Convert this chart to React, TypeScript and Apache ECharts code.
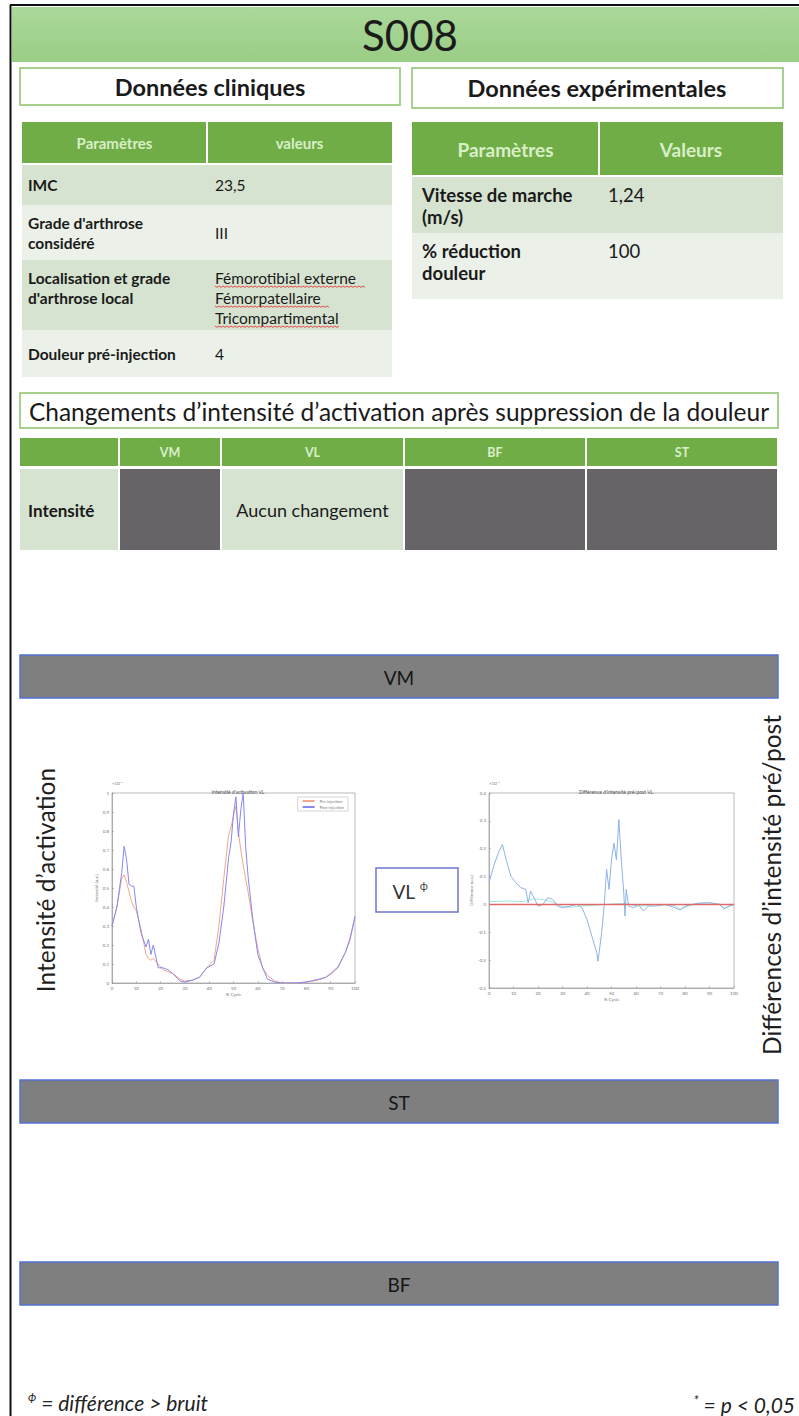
import React, { useEffect, useRef } from "react";
import * as echarts from "echarts";

// ---------- DATA ----------
const pageTitle = "S008";
const clinicalHeaders = ["Paramètres", "valeurs"];
const clinicalLabels = ["IMC", "Grade d'arthrose\nconsidéré", "Localisation et grade\nd'arthrose local", "Douleur pré-injection"];
const clinicalValues = ["23,5", "III", "Fémorotibial externe\nFémorpatellaire\nTricompartimental", "4"];

const expHeaders = ["Paramètres", "Valeurs"];
const expLabels = ["Vitesse de marche\n(m/s)", "% réduction\ndouleur"];
const expValues = ["1,24", "100"];

const muscles = ["VM", "VL", "BF", "ST"];
const intensityChanged = [true, false, true, true];
const noChangeText = "Aucun changement";
const sectionBands = ["VM", "ST", "BF"];

const cycleX = [0, 2, 4, 5, 6, 7, 8, 9, 10, 12, 14, 15, 16, 17, 19, 21, 23, 25, 28, 30, 33, 36, 39, 42, 44, 46, 48, 49, 50, 51, 52, 53, 54, 55, 56, 58, 60, 62, 64, 67, 70, 75, 80, 85, 88, 90, 93, 96, 98, 100];
const preVals = [0.3, 0.4, 0.55, 0.57, 0.53, 0.48, 0.43, 0.4, 0.38, 0.28, 0.15, 0.13, 0.12, 0.13, 0.1, 0.07, 0.06, 0.05, 0.02, 0.01, 0.015, 0.03, 0.08, 0.12, 0.3, 0.55, 0.78, 0.82, 0.88, 0.93, 0.8, 0.7, 0.62, 0.55, 0.48, 0.32, 0.18, 0.08, 0.04, 0.01, 0, 0, 0.005, 0.015, 0.03, 0.045, 0.08, 0.16, 0.24, 0.35];
const postVals = [0.3, 0.4, 0.58, 0.72, 0.65, 0.52, 0.51, 0.51, 0.4, 0.26, 0.19, 0.23, 0.15, 0.2, 0.08, 0.08, 0.07, 0.05, 0.01, 0.005, 0.014, 0.03, 0.08, 0.1, 0.21, 0.4, 0.66, 0.74, 0.89, 0.98, 0.77, 0.91, 1.0, 0.72, 0.56, 0.33, 0.15, 0.08, 0.02, 0.005, 0, 0, 0.005, 0.02, 0.03, 0.05, 0.085, 0.16, 0.23, 0.35];

const diffX = [0, 2, 4, 5.5, 7, 9, 11, 13, 15, 16, 17, 18, 20, 22, 24, 26, 28, 30, 33, 36, 38, 40, 42, 44, 44.5, 46, 47, 48, 49, 50, 51, 52, 53, 54, 55, 55.5, 56, 57, 59, 61, 63, 65, 68, 72, 76, 78, 80, 85, 90, 94, 96, 98, 100];
const diffVals = [0.078, 0.14, 0.19, 0.215, 0.16, 0.1, 0.078, 0.06, 0.054, 0.006, 0.048, 0.03, -0.006, 0, 0.024, 0.018, -0.006, -0.012, -0.006, 0, -0.012, -0.054, -0.114, -0.174, -0.204, -0.1, -0.006, 0.126, 0.054, 0.16, 0.22, 0.16, 0.305, 0.16, 0.042, -0.042, 0.054, -0.006, -0.012, 0, -0.024, -0.006, -0.006, 0, -0.012, -0.02, -0.006, 0.004, 0.006, 0, -0.016, -0.006, 0];
const noiseX = [0, 8, 14, 18, 22, 26, 30, 34, 38, 56, 60, 64, 68, 72, 76, 78, 82, 86, 90, 94, 96, 100];
const noiseVals = [0.01, 0.012, 0.01, 0.02, 0.018, 0.008, -0.008, -0.01, -0.005, 0.004, -0.006, -0.004, 0, -0.002, -0.004, -0.018, -0.004, 0.004, 0.006, 0.002, -0.014, 0];

const legendNames = ["Pré-injection", "Post-injection"];
const leftYLabel = "Intensité d’activation";
const rightYLabel = "Différences d’intensité pré/post";
const sectionTitle = "Changements d’intensité d’activation après suppression de la douleur";

// ---------- STYLE ----------
const FONT = "Lato, 'Noto Sans', sans-serif";
const GREEN = "#70ad47";
const ROW_A = "#d6e3d0";
const ROW_B = "#ebf1e8";
const HEAD_TXT = "#d8efc8";
const BOX_BORDER = "#a9d18e";
const GRAY_CELL = "#666466";
const BAND = "#7f7f7f";
const BAND_BORDER = "#5572d8";

function rect(x: number, y: number, w: number, h: number, fill: string, stroke?: string, lw?: number) {
  return { type: "rect", shape: { x, y, width: w, height: h }, style: { fill, stroke: stroke || "none", lineWidth: lw || 0 }, silent: true };
}
function text(x: number, y: number, t: string, o: any = {}) {
  return {
    type: "text",
    x,
    y,
    rotation: o.rotation || 0,
    silent: true,
    style: {
      text: t,
      fill: o.fill || "#1a1a1a",
      fontFamily: FONT,
      fontSize: o.size || 14,
      fontWeight: o.weight || "normal",
      fontStyle: o.style || "normal",
      align: o.align || "left",
      verticalAlign: o.va || "top",
      lineHeight: o.lh || undefined,
      rich: o.rich || undefined,
    },
  };
}
function wavy(x: number, y: number, w: number) {
  const pts: number[][] = [];
  for (let i = 0; i * 2 <= w; i++) pts.push([x + i * 2, y + (i % 2 ? 1.4 : 0)]);
  return { type: "polyline", shape: { points: pts }, style: { stroke: "#e23b3b", lineWidth: 0.9, fill: "none" }, silent: true };
}

function buildGraphics() {
  const g: any[] = [];
  // page borders
  g.push({ type: "line", shape: { x1: 10.5, y1: 5, x2: 10.5, y2: 1416 }, style: { stroke: "#111", lineWidth: 2 }, silent: true });
  g.push({ type: "line", shape: { x1: 10, y1: 5, x2: 799, y2: 5 }, style: { stroke: "#111", lineWidth: 2 }, silent: true });
  // green title band
  g.push({
    type: "rect",
    shape: { x: 12, y: 7, width: 787, height: 55 },
    style: { fill: new echarts.graphic.LinearGradient(0, 0, 0, 1, [{ offset: 0, color: "#aad899" }, { offset: 1, color: "#9acd86" }]) },
    silent: true,
  });
  g.push(text(410, 35, pageTitle, { size: 42, align: "center", va: "middle", fill: "#1b1b1b" }));

  // boxes
  g.push(rect(20, 68, 380, 37, "#fff", BOX_BORDER, 2));
  g.push(text(210, 87, "Données cliniques", { size: 23.5, weight: "bold", align: "center", va: "middle" }));
  g.push(rect(412, 68, 371, 40, "#fff", BOX_BORDER, 2));
  g.push(text(597, 88, "Données expérimentales", { size: 23.5, weight: "bold", align: "center", va: "middle" }));

  // clinical table
  const lx = 22, lsplit = 207, lr = 392;
  g.push(rect(lx, 122, lsplit - lx - 1, 41, GREEN));
  g.push(rect(lsplit + 1, 122, lr - lsplit - 1, 41, GREEN));
  g.push(text((lx + lsplit) / 2, 143, clinicalHeaders[0], { size: 15, weight: "bold", align: "center", va: "middle", fill: HEAD_TXT }));
  g.push(text((lsplit + lr) / 2, 143, clinicalHeaders[1], { size: 15, weight: "bold", align: "center", va: "middle", fill: HEAD_TXT }));
  const cRows = [[165, 40], [205, 55], [260, 70], [330, 47]];
  cRows.forEach(([y, h], i) => {
    const fill = i % 2 === 0 ? ROW_A : ROW_B;
    g.push(rect(lx, y, lr - lx, h, fill));
    const top = i === 2 ? y + 8 : y + h / 2;
    const va = i === 2 ? "top" : "middle";
    g.push(text(lx + 6, top, clinicalLabels[i], { size: 15.5, weight: "bold", va, lh: 20 }));
    g.push(text(lsplit + 8, top, clinicalValues[i], { size: 15.5, va, lh: 20 }));
  });
  // spell-check underlines
  g.push(wavy(215, 286, 150));
  g.push(wavy(215, 306, 114));
  g.push(wavy(215, 326, 124));

  // experimental table
  const rx = 412, rsplit = 599, rr = 783;
  g.push(rect(rx, 122, rsplit - rx - 1, 53, GREEN));
  g.push(rect(rsplit + 1, 122, rr - rsplit - 1, 53, GREEN));
  g.push(text((rx + rsplit) / 2, 149, expHeaders[0], { size: 19, weight: "bold", align: "center", va: "middle", fill: HEAD_TXT }));
  g.push(text((rsplit + rr) / 2, 149, expHeaders[1], { size: 19, weight: "bold", align: "center", va: "middle", fill: HEAD_TXT }));
  const eRows = [[177, 56], [233, 66]];
  eRows.forEach(([y, h], i) => {
    g.push(rect(rx, y, rr - rx, h, i === 0 ? ROW_A : ROW_B));
    g.push(text(rx + 10, y + 7, expLabels[i], { size: 18.5, weight: "bold", lh: 22 }));
    g.push(text(rsplit + 9, y + 7, expValues[i], { size: 18.5, lh: 22 }));
  });

  // section title
  g.push(rect(20, 393, 758, 35, "#fff", BOX_BORDER, 2));
  g.push(text(399, 411, sectionTitle, { size: 24.5, align: "center", va: "middle" }));

  // intensity table
  const cols = [[20, 98], [120, 100], [222, 181], [405, 180], [587, 190]];
  cols.forEach(([x, w], i) => {
    g.push(rect(x, 438, w, 28, GREEN));
    if (i > 0) g.push(text(x + w / 2, 452, muscles[i - 1], { size: 12.5, weight: "bold", align: "center", va: "middle", fill: HEAD_TXT }));
    if (i === 0) {
      g.push(rect(x, 469, w, 81, ROW_A));
      g.push(text(x + 8, 510, "Intensité", { size: 17, weight: "bold", va: "middle" }));
    } else {
      const changed = intensityChanged[i - 1];
      g.push(rect(x, 469, w, 81, changed ? GRAY_CELL : ROW_A));
      if (!changed) g.push(text(x + w / 2, 510, noChangeText, { size: 18, align: "center", va: "middle" }));
    }
  });

  // gray section bands
  const bandY = [655, 1080, 1262];
  sectionBands.forEach((b, i) => {
    g.push(rect(20, bandY[i], 758, 43, BAND, BAND_BORDER, 1.5));
    g.push(text(399, bandY[i] + 22, b, { size: 19, align: "center", va: "middle", fill: "#151515" }));
  });

  // VL box
  g.push(rect(376, 868, 82, 44, "#fff", "#6d76cf", 1.5));
  g.push(text(410, 891, "VL {s|ϕ}", { size: 19, align: "center", va: "middle", fill: "#333", rich: { s: { fontSize: 11, fontFamily: FONT, fill: "#444", verticalAlign: "top", padding: [0, 0, 11, 0] } } }));

  // rotated axis labels
  g.push(text(45, 880, leftYLabel, { size: 24.5, align: "center", va: "middle", rotation: Math.PI / 2, fill: "#1f1f1f" }));
  g.push(text(771, 885, rightYLabel, { size: 24.5, align: "center", va: "middle", rotation: Math.PI / 2, fill: "#1f1f1f" }));

  // footnotes
  g.push(text(28, 1402, "{s|ϕ} = différence > bruit", { size: 21, style: "italic", va: "middle", fill: "#222", rich: { s: { fontSize: 12, fontStyle: "italic", fontFamily: FONT, padding: [0, 0, 12, 0] } } }));
  g.push(text(795, 1404, "{s|*} = p < 0,05", { size: 21, style: "italic", align: "right", va: "middle", fill: "#222", rich: { s: { fontSize: 13, fontStyle: "italic", fontFamily: FONT, padding: [0, 0, 8, 0] } } }));

  // small exponent marks on the chart corners
  g.push(text(112, 786, "×10⁻³", { size: 4.5, fill: "#777", va: "bottom" }));
  g.push(text(489, 786, "×10⁻³", { size: 4.5, fill: "#777", va: "bottom" }));
  return g;
}

function axisCommon(gridIndex: number) {
  return {
    gridIndex,
    axisLine: { show: true, onZero: false, lineStyle: { color: "#8a8a8a", width: 0.6 } },
    axisTick: { show: true, inside: true, length: 2, lineStyle: { color: "#8a8a8a", width: 0.5 } },
    axisLabel: { fontSize: 4.5, color: "#777", margin: 3, fontFamily: FONT },
    splitLine: { show: false },
    nameTextStyle: { fontSize: 4.5, color: "#777", fontFamily: FONT },
  };
}

export default function App() {
  const ref = useRef<HTMLDivElement>(null);
  useEffect(() => {
    if (!ref.current) return;
    const chart = echarts.init(ref.current, undefined, { renderer: "svg" });
    chart.setOption({
      animation: false,
      backgroundColor: "#fff",
      title: [
        { text: "Intensité d'activation VL", left: 233, top: 784, textAlign: "center", textStyle: { fontSize: 5, fontWeight: "normal", color: "#555", fontFamily: FONT } },
        { text: "Différence d'intensité pré/post VL", left: 611, top: 784, textAlign: "center", textStyle: { fontSize: 5, fontWeight: "normal", color: "#555", fontFamily: FONT } },
      ],
      legend: {
        data: legendNames,
        orient: "vertical",
        right: 451,
        top: 797,
        itemWidth: 12,
        itemHeight: 2,
        itemGap: 2,
        padding: [2, 4],
        backgroundColor: "#fff",
        borderColor: "#aaa",
        borderWidth: 0.5,
        textStyle: { fontSize: 4, color: "#777", fontFamily: FONT },
      },
      grid: [
        { left: 112, top: 793, width: 243, height: 190, show: true, borderColor: "#8a8a8a", borderWidth: 0.6, backgroundColor: "transparent" },
        { left: 489, top: 793, width: 245, height: 195, show: true, borderColor: "#8a8a8a", borderWidth: 0.6, backgroundColor: "transparent" },
      ],
      xAxis: [
        { type: "value", min: 0, max: 100, interval: 10, name: "% Cycle", nameLocation: "middle", nameGap: 9, ...axisCommon(0) },
        { type: "value", min: 0, max: 100, interval: 10, name: "% Cycle", nameLocation: "middle", nameGap: 9, ...axisCommon(1) },
      ],
      yAxis: [
        { type: "value", min: 0, max: 1, interval: 0.1, name: "Intensité (u.a.)", nameLocation: "middle", nameGap: 12, ...axisCommon(0) },
        { type: "value", min: -0.3, max: 0.4, interval: 0.1, name: "Différence (u.a.)", nameLocation: "middle", nameGap: 14, ...axisCommon(1) },
      ],
      series: [
        { name: legendNames[0], type: "line", xAxisIndex: 0, yAxisIndex: 0, symbol: "none", data: cycleX.map((x, i) => [x, preVals[i]]), lineStyle: { color: "#f3a68c", width: 1 }, itemStyle: { color: "#f3a68c" } },
        { name: legendNames[1], type: "line", xAxisIndex: 0, yAxisIndex: 0, symbol: "none", data: cycleX.map((x, i) => [x, postVals[i]]), lineStyle: { color: "#8787f2", width: 1 }, itemStyle: { color: "#8787f2" } },
        { name: "bruit", type: "line", xAxisIndex: 1, yAxisIndex: 1, symbol: "none", data: noiseX.map((x, i) => [x, noiseVals[i]]), lineStyle: { color: "#86e0cf", width: 0.8 } },
        {
          name: "diff",
          type: "line",
          xAxisIndex: 1,
          yAxisIndex: 1,
          symbol: "none",
          data: diffX.map((x, i) => [x, diffVals[i]]),
          lineStyle: { color: "#8fb3e6", width: 1 },
          markLine: { silent: true, symbol: "none", label: { show: false }, lineStyle: { color: "#e06a6a", width: 1.3, type: "solid" }, data: [{ yAxis: 0 }] },
        },
      ],
      graphic: buildGraphics(),
    });
    return () => chart.dispose();
  }, []);
  return <div ref={ref} style={{ position: "absolute", left: 0, top: 0, width: 799, height: 1416 }} />;
}
